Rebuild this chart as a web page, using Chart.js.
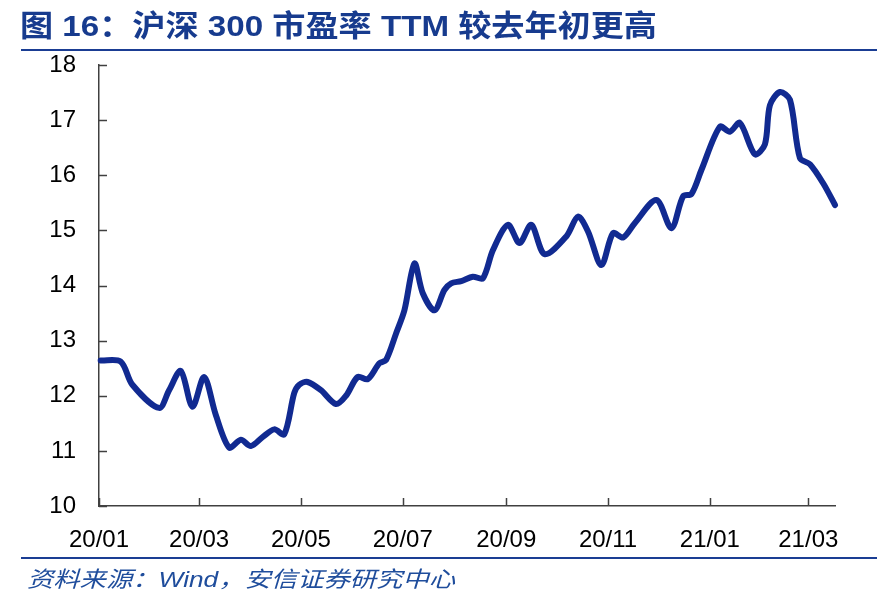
<!DOCTYPE html>
<html>
<head>
<meta charset="utf-8">
<style>
  body { margin: 0; background: #fff; }
  #peChart { display: block; }
</style>
</head>
<body>
<canvas id="peChart" width="887" height="605"></canvas>
<script src="https://cdn.jsdelivr.net/npm/chart.js"></script>
<script>
    // 沪深300 市盈率 TTM
    var dates = ['2020-01-02','2020-01-14','2020-01-21','2020-02-06','2020-02-12','2020-02-19','2020-02-26',
        '2020-03-04','2020-03-11','2020-03-19','2020-03-26','2020-04-01','2020-04-08','2020-04-15','2020-04-21',
        '2020-04-27','2020-04-30','2020-05-05','2020-05-13','2020-05-22','2020-05-28','2020-06-04','2020-06-10',
        '2020-06-17','2020-06-21','2020-06-27','2020-07-02','2020-07-08','2020-07-13','2020-07-20','2020-07-26',
        '2020-07-30','2020-08-05','2020-08-12','2020-08-18','2020-08-24','2020-09-02','2020-09-09','2020-09-16',
        '2020-09-24','2020-10-07','2020-10-14','2020-10-20','2020-10-28','2020-11-04','2020-11-10','2020-11-17',
        '2020-11-30','2020-12-09','2020-12-16','2020-12-21','2020-12-27','2021-01-07','2021-01-13','2021-01-19',
        '2021-01-28','2021-02-03','2021-02-06','2021-02-12','2021-02-18','2021-02-24','2021-03-02','2021-03-10',
        '2021-03-17'];
    var peTTM = [12.64, 12.62, 12.2, 11.78, 12.1, 12.45, 11.8,
        12.34, 11.65, 11.06, 11.2, 11.09, 11.25, 11.39, 11.3,
        12.05, 12.2, 12.25, 12.1, 11.85, 12.0, 12.34, 12.3,
        12.59, 12.65, 13.13, 13.55, 14.4, 13.86, 13.55, 13.92,
        14.04, 14.08, 14.16, 14.13, 14.64, 15.1, 14.77, 15.1,
        14.57, 14.89, 15.25, 14.98, 14.37, 14.95, 14.87, 15.13,
        15.55, 15.04, 15.62, 15.66, 16.1, 16.88, 16.79, 16.95,
        16.38, 16.56, 17.27, 17.51, 17.37, 16.31, 16.2, 15.85,
        15.46];
    var tickDates = ['2020-01-01','2020-03-01','2020-05-01','2020-07-01','2020-09-01','2020-11-01','2021-01-01','2021-03-01'];
    var tickLabels = ['20/01','20/03','20/05','20/07','20/09','20/11','21/01','21/03'];
    var yTicks = [10, 11, 12, 13, 14, 15, 16, 17, 18];

    var title = '图 16：沪深 300 市盈率 TTM 较去年初更高';
    var source = '资料来源：Wind，安信证券研究中心';

    function dayOf(s) {
        var p = s.split('-');
        return (Date.UTC(+p[0], +p[1] - 1, +p[2]) - Date.UTC(2020, 0, 1)) / 86400000;
    }

    var points = dates.map(function (d, i) { return { x: dayOf(d), y: peTTM[i] }; });
    var tickDays = tickDates.map(dayOf);

    // title, rules, source and inward tick marks
    var decor = {
        id: 'decor',
        afterDraw: function (chart) {
            var c = chart.ctx;
            var area = chart.chartArea;
            c.save();

            c.fillStyle = '#173b8e';
            c.font = 'bold 30px "Liberation Sans", "Noto Sans CJK SC", sans-serif';
            c.textBaseline = 'alphabetic';
            var w = c.measureText(title).width;
            c.save();
            c.translate(20, 36);
            c.scale(637 / w, 1);
            c.fillText(title, 0, 0);
            c.restore();

            c.strokeStyle = '#1a3d93';
            c.lineWidth = 2;
            c.beginPath();
            c.moveTo(21, 50); c.lineTo(877, 50);
            c.moveTo(21, 558); c.lineTo(877, 558);
            c.stroke();

            c.fillStyle = '#1f4d9c';
            c.font = 'italic 22px "Liberation Sans", "Noto Sans CJK SC", sans-serif';
            var ws = c.measureText(source).width;
            c.save();
            c.translate(27, 587);
            c.scale(428 / ws, 1);
            c.fillText(source, 0, 0);
            c.restore();

            c.strokeStyle = '#404040';
            c.lineWidth = 1.5;
            c.beginPath();
            yTicks.forEach(function (v) {
                var py = Math.round(chart.scales.y.getPixelForValue(v)) + 0.5;
                c.moveTo(area.left, py); c.lineTo(area.left + 8, py);
            });
            tickDays.forEach(function (v) {
                var px = Math.round(chart.scales.x.getPixelForValue(v)) + 0.5;
                c.moveTo(px, area.bottom); c.lineTo(px, area.bottom - 8);
            });
            c.stroke();
            c.restore();
        }
    };

    var ctx = document.getElementById('peChart').getContext('2d');
    var peChart = new Chart(ctx, {
        type: 'line',
        data: {
            datasets: [{
                data: points,
                borderColor: '#112a91',
                borderWidth: 6,
                pointRadius: 0,
                tension: 0.3,
                borderCapStyle: 'round',
                borderJoinStyle: 'round',
                clip: false,
                fill: false
            }]
        },
        options: {
            responsive: false,
            animation: false,
            layout: { padding: { top: 65, right: 52, left: 0, bottom: 0 } },
            plugins: { legend: { display: false }, tooltip: { enabled: false } },
            scales: {
                x: {
                    type: 'linear',
                    min: 0,
                    max: dayOf(dates[dates.length - 1]),
                    afterFit: function (s) { s.height = 99; },
                    afterBuildTicks: function (s) {
                        s.ticks = tickDays.map(function (v) { return { value: v }; });
                    },
                    ticks: {
                        autoSkip: false,
                        maxRotation: 0,
                        padding: 20,
                        color: '#000',
                        font: { family: '"Liberation Sans", Arial, sans-serif', size: 24 },
                        callback: function (v) {
                            var i = tickDays.indexOf(v);
                            return i >= 0 ? tickLabels[i] : '';
                        }
                    },
                    grid: { drawOnChartArea: false, drawTicks: false },
                    border: { color: '#404040', width: 1.5 }
                },
                y: {
                    min: 10,
                    max: 18,
                    afterFit: function (s) { s.width = 99; },
                    ticks: {
                        stepSize: 1,
                        padding: 23,
                        color: '#000',
                        font: { family: '"Liberation Sans", Arial, sans-serif', size: 24 }
                    },
                    grid: { drawOnChartArea: false, drawTicks: false },
                    border: { color: '#404040', width: 1.5 }
                }
            }
        },
        plugins: [decor]
    });
</script>
</body>
</html>
